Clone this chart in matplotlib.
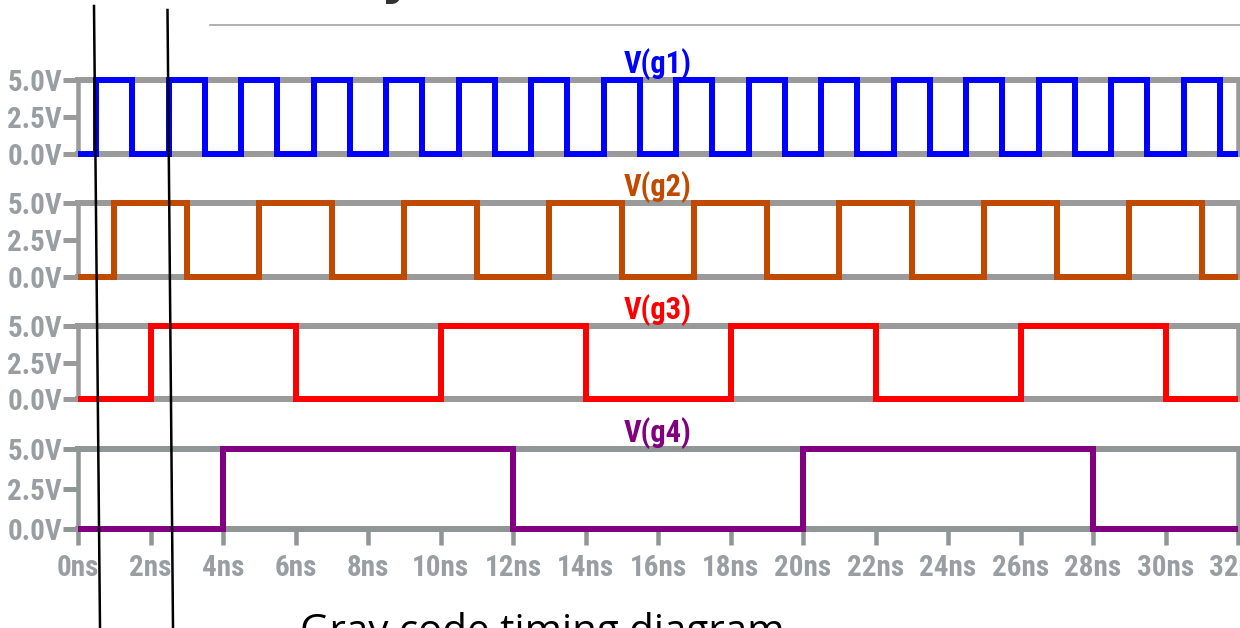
import matplotlib
matplotlib.use("Agg")
import matplotlib.pyplot as plt
from matplotlib.lines import Line2D
from matplotlib import font_manager as fm
import numpy as np

# ---------------- data ----------------
signal_names = ["V(g1)", "V(g2)", "V(g3)", "V(g4)"]
# transition times (ns); every signal starts at 0 V and toggles at each edge
g1_edges = [0.5, 1.5, 2.5, 3.5, 4.5, 5.5, 6.5, 7.5, 8.5, 9.5, 10.5, 11.5,
            12.5, 13.5, 14.5, 15.5, 16.5, 17.5, 18.5, 19.5, 20.5, 21.5,
            22.5, 23.5, 24.5, 25.5, 26.5, 27.5, 28.5, 29.5, 30.5, 31.5]
g2_edges = [1, 3, 5, 7, 9, 11, 13, 15, 17, 19, 21, 23, 25, 27, 29, 31]
g3_edges = [2, 6, 10, 14, 18, 22, 26, 30]
g4_edges = [4, 12, 20, 28]
low_level = 0.0
high_level = 5.0
t_end = 32
y_ticks = [0.0, 2.5, 5.0]
y_tick_labels = ["0.0V", "2.5V", "5.0V"]
x_ticks = [0, 2, 4, 6, 8, 10, 12, 14, 16, 18, 20, 22, 24, 26, 28, 30, 32]
x_tick_labels = ["0ns", "2ns", "4ns", "6ns", "8ns", "10ns", "12ns", "14ns", "16ns",
                 "18ns", "20ns", "22ns", "24ns", "26ns", "28ns", "30ns", "32ns"]
caption = "Gray code timing diagram"

# ---------------- styling ----------------
W, H = 1240, 628
PT = 0.72  # points per pixel at dpi 100
colors = ["#0000ff", "#c04a00", "#ff0000", "#800080"]
frame_colors = ["#9a9a9a", "#9a9a9a", "#9a9a9a", "#8f9695"]
label_color = "#999ea3"

names = {f.name for f in fm.fontManager.ttflist}
narrow = [f for f in ["Roboto Condensed", "Liberation Sans Narrow", "DejaVu Sans Condensed"] if f in names]
narrow_family = (narrow[:1] + ["DejaVu Sans"]) if narrow else ["DejaVu Sans"]

fig = plt.figure(figsize=(W / 100, H / 100), dpi=100)

def fx(x):
    return x / W

def fy(y):
    return 1 - y / H

panels_px = [(80, 154), (203, 277), (326, 399), (449, 529)]
ax_left, ax_right = 78, 1238
all_edges = [g1_edges, g2_edges, g3_edges, g4_edges]

for i, ((top, bot), edges) in enumerate(zip(panels_px, all_edges)):
    ax = fig.add_axes([fx(ax_left), fy(bot), (ax_right - ax_left) / W, (bot - top) / H])
    ax.set_xlim(0, t_end)
    ax.set_ylim(low_level, high_level)
    ax.set_facecolor("none")
    for s in ["top", "bottom"]:
        ax.spines[s].set_color(frame_colors[i])
        ax.spines[s].set_linewidth(6 * PT)
    for s in ["left", "right"]:
        ax.spines[s].set_color(frame_colors[i])
        ax.spines[s].set_linewidth(4.5 * PT)

    t = [0] + list(edges) + [t_end]
    levels = [low_level]
    for _ in edges:
        levels.append(high_level if levels[-1] == low_level else low_level)
    levels.append(levels[-1])
    ax.plot(t, levels, drawstyle="steps-post", color=colors[i], lw=6 * PT,
            solid_joinstyle="miter", solid_capstyle="butt", clip_on=False, zorder=5)

    ax.set_yticks(y_ticks)
    ax.set_yticklabels(y_tick_labels, family=narrow_family, fontsize=21, fontweight="bold")
    ax.tick_params(axis="y", length=15 * PT, width=5 * PT, color=frame_colors[i],
                   labelcolor=label_color, pad=1 * PT, direction="out")
    if i == 3:
        ax.set_xticks(x_ticks)
        ax.set_xticklabels(x_tick_labels, family=narrow_family, fontsize=21, fontweight="bold")
        ax.tick_params(axis="x", length=16 * PT, width=4.5 * PT, color=frame_colors[i],
                       labelcolor=label_color, pad=9 * PT, direction="out")
    else:
        ax.set_xticks([])
    ax.set_title(signal_names[i], color=colors[i], family=narrow_family,
                 fontsize=22, fontweight="bold", pad=3)

# ---------------- overlay decorations (screenshot artefacts) ----------------
fig.add_artist(Line2D([fx(94), fx(100)], [fy(6), fy(628)], color="black", lw=2.5 * PT))
fig.add_artist(Line2D([fx(167.5), fx(173)], [fy(10), fy(628)], color="black", lw=2.5 * PT))
fig.add_artist(Line2D([fx(210), fx(1240)], [fy(25), fy(25)], color="#999999", lw=1.5 * PT))
fig.text(fx(380), fy(-6), "y", fontsize=36, fontweight="bold", color="#333333",
         ha="left", va="baseline", family=["DejaVu Sans"])
fig.text(fx(300), fy(643), caption, fontsize=29, color="black",
         ha="left", va="baseline", family=["Open Sans", "DejaVu Sans"])

fig.savefig("out.png", dpi=100)
